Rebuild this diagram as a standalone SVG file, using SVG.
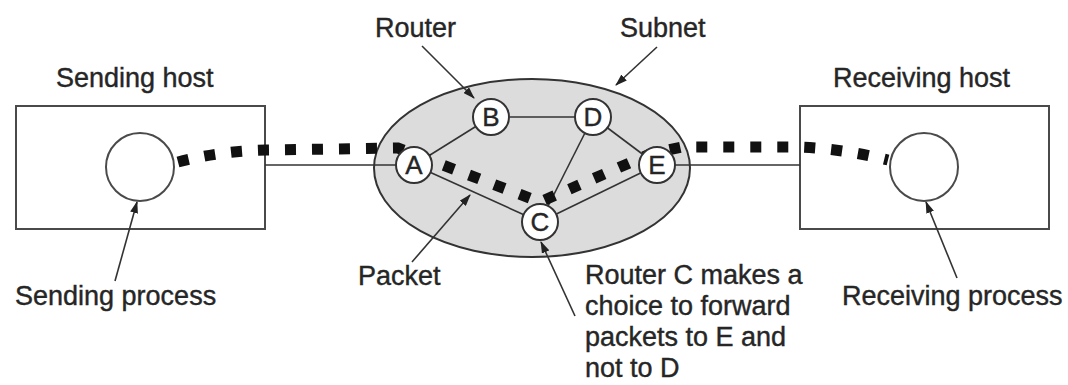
<svg xmlns="http://www.w3.org/2000/svg" width="1068" height="385" viewBox="0 0 1068 385">
<style>
.lbl{font-family:"Liberation Sans",Arial,sans-serif;font-size:27px;fill:#262626;stroke:#262626;stroke-width:0.4}
.nl{font-family:"Liberation Sans",Arial,sans-serif;font-size:26px;fill:#262626;stroke:#262626;stroke-width:0.4;text-anchor:middle}
.box{fill:#fff;stroke:#4a4a4a;stroke-width:2}
.proc{fill:#fff;stroke:#4a4a4a;stroke-width:2}
.rt{fill:#fff;stroke:#333;stroke-width:2}
.ln{stroke:#333;stroke-width:1.6;fill:none}
.ar{stroke:#333;stroke-width:1.6;fill:none;marker-end:url(#ah)}
.pk{stroke:#111;stroke-width:11;stroke-dasharray:11 16;fill:none}
</style>
<defs>
<marker id="ah" markerUnits="userSpaceOnUse" markerWidth="12" markerHeight="8" refX="11" refY="4" orient="auto">
<path d="M0,0 L12,4 L0,8 z" fill="#222"/>
</marker>
</defs>
<rect width="1068" height="385" fill="#fff"/>
<g id="subnet">
<ellipse cx="532" cy="168" rx="158" ry="89" fill="#dcdcdc" stroke="#333" stroke-width="2"/>
</g>
<g id="sending-host">
<rect class="box" x="16" y="106" width="249" height="123"/>
<circle class="proc" cx="140" cy="167" r="34"/>
<text class="lbl" x="56" y="87">Sending host</text>
</g>
<g id="receiving-host">
<rect class="box" x="800" y="106" width="249" height="123"/>
<circle class="proc" cx="924" cy="167" r="34"/>
<text class="lbl" x="833" y="87">Receiving host</text>
</g>
<g id="connectors">
<line class="ln" x1="265" y1="165" x2="396" y2="165"/>
<line class="ln" x1="675" y1="165" x2="800" y2="165"/>
<line class="ln" x1="510" y1="117" x2="575" y2="117"/>
<line class="ln" x1="414" y1="165" x2="491" y2="117"/>
<line class="ln" x1="414" y1="165" x2="540" y2="222"/>
<line class="ln" x1="540" y1="222" x2="593" y2="117"/>
<line class="ln" x1="540" y1="222" x2="657" y2="165"/>
<line class="ln" x1="593" y1="117" x2="657" y2="165"/>
<path class="pk" d="M178 162 Q220 151 266 150 L398 148 L540 202 L650 154 L682 147 L795 147 Q840 148 888 160"/>
<line class="ar" x1="422" y1="46" x2="474" y2="98"/>
<line class="ar" x1="657" y1="47" x2="616" y2="85"/>
<line class="ar" x1="412" y1="262" x2="470" y2="195"/>
<line class="ar" x1="575" y1="316" x2="541" y2="242"/>
<line class="ar" x1="115" y1="281" x2="137" y2="202"/>
<line class="ar" x1="957" y1="278" x2="926" y2="202"/>
</g>
<g id="router-A"><circle class="rt" cx="414" cy="165" r="18"/><text class="nl" x="414" y="174">A</text></g>
<g id="router-B"><circle class="rt" cx="491" cy="117" r="18"/><text class="nl" x="491" y="126">B</text></g>
<g id="router-C"><circle class="rt" cx="540" cy="222" r="18"/><text class="nl" x="540" y="231">C</text></g>
<g id="router-D"><circle class="rt" cx="593" cy="117" r="18"/><text class="nl" x="593" y="126">D</text></g>
<g id="router-E"><circle class="rt" cx="657" cy="165" r="18"/><text class="nl" x="657" y="174">E</text></g>
<g id="labels">
<text class="lbl" x="375" y="37">Router</text>
<text class="lbl" x="620" y="37">Subnet</text>
<text class="lbl" x="358" y="285">Packet</text>
<text class="lbl" x="15" y="305">Sending process</text>
<text class="lbl" x="842" y="305">Receiving process</text>
<text class="lbl" x="585" y="284">Router C makes a</text>
<text class="lbl" x="585" y="315">choice to forward</text>
<text class="lbl" x="585" y="346">packets to E and</text>
<text class="lbl" x="585" y="377">not to D</text>
</g>
</svg>
